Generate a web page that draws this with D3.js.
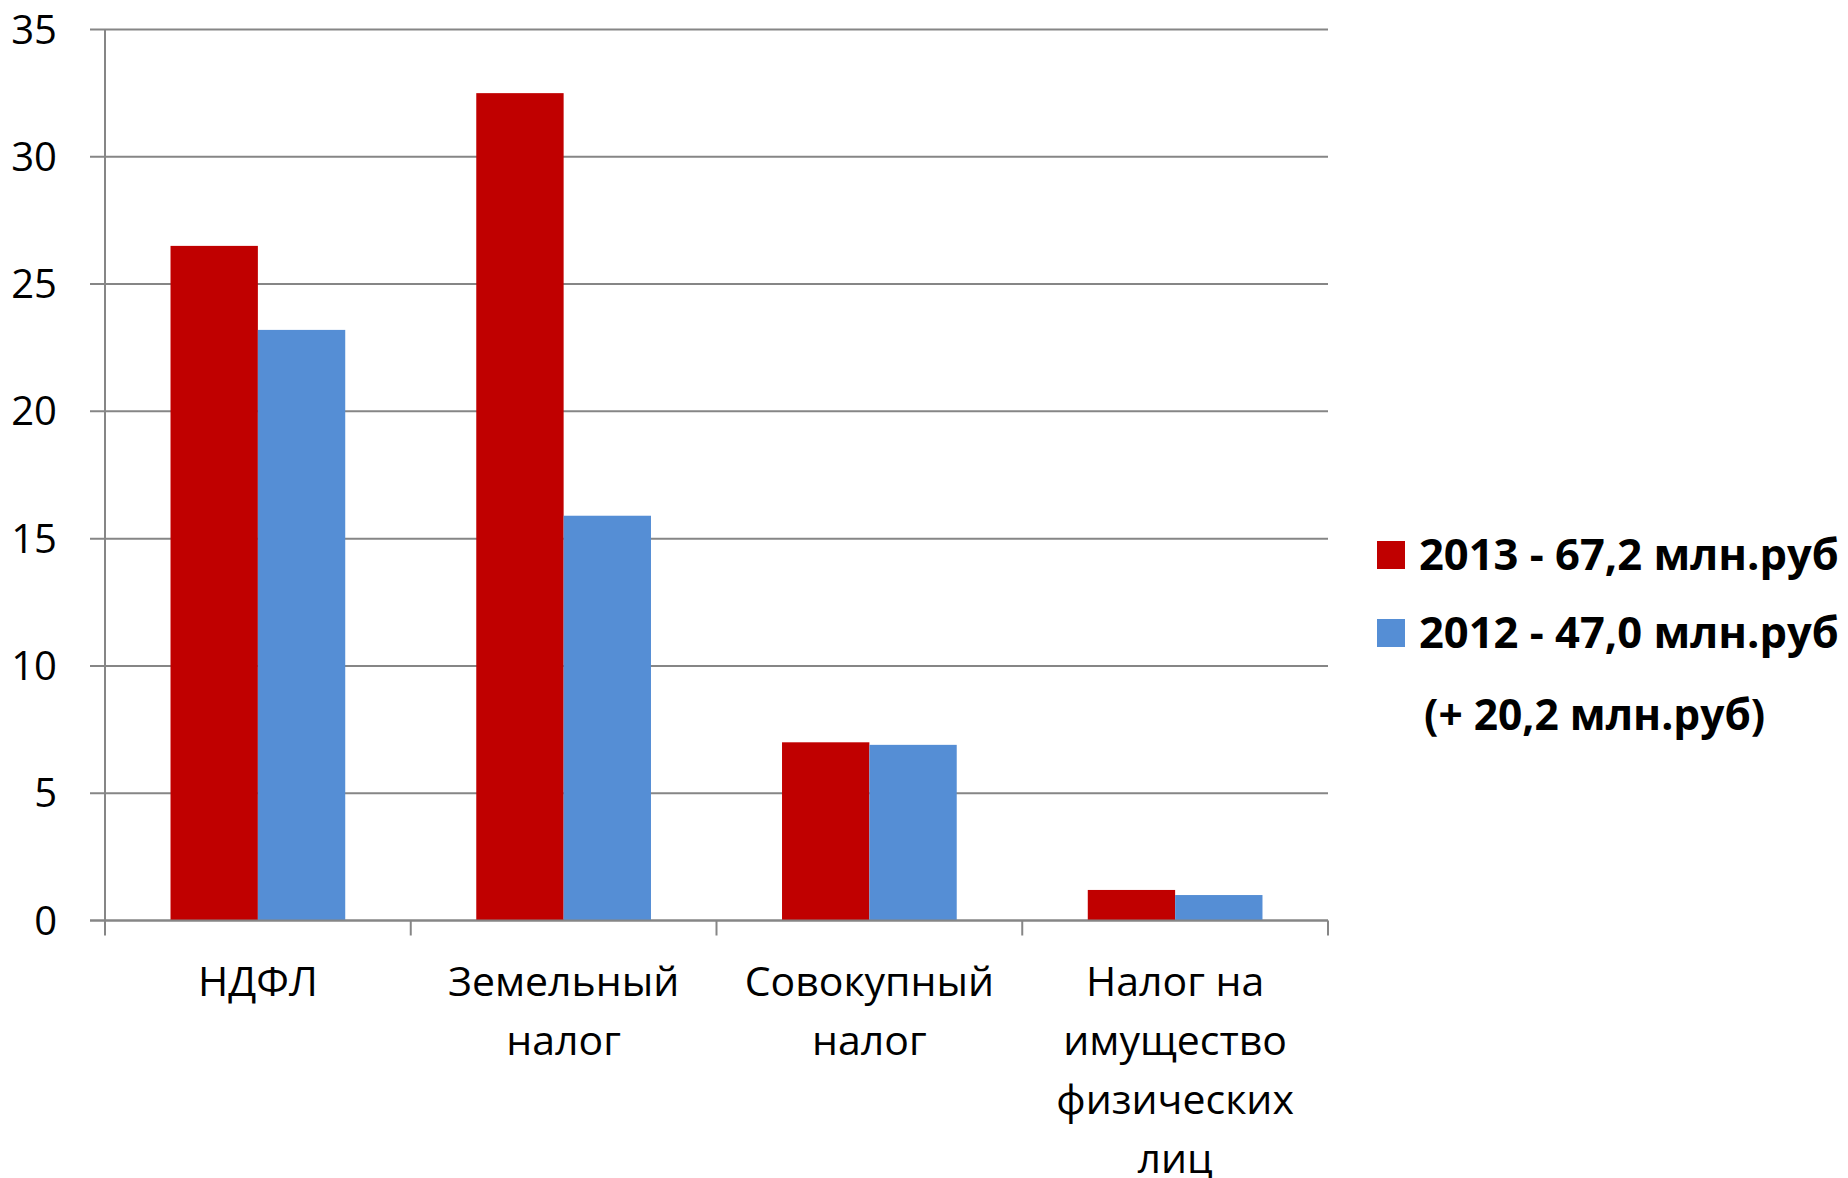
<!DOCTYPE html>
<html><head><meta charset="utf-8">
<script src="https://cdnjs.cloudflare.com/ajax/libs/d3/7.8.5/d3.min.js"></script>
<style>body{margin:0;background:#fff}svg{display:block}</style>
</head><body>
<svg id="c" width="1848" height="1178"></svg>
<script>
const categories = [["НДФЛ"], ["Земельный", "налог"], ["Совокупный", "налог"], ["Налог на", "имущество", "физических", "лиц"]];
const series2013 = [26.5, 32.5, 7.0, 1.2];
const series2012 = [23.2, 15.9, 6.9, 1.0];
const yTicks = [0, 5, 10, 15, 20, 25, 30, 35];
const legendLabels = ["2013 - 67,2 млн.руб", "2012 - 47,0 млн.руб"];
const legendNote = "(+ 20,2 млн.руб)";
const colors = ["#C00000", "#558ED5"];

(function(){
const svg = d3.select("#c");
const font = "'Open Sans', sans-serif";
const pL = 105, pR = 1328, pT = 29.5, pB = 920.5;

const x = d3.scaleBand().domain(d3.range(categories.length)).range([pL, pR]);
const y = d3.scaleLinear().domain([0, 35]).range([pB, pT]);

svg.append("g").selectAll("line").data(yTicks).join("line")
  .attr("x1", pL - 15).attr("x2", pR)
  .attr("y1", d => y(d)).attr("y2", d => y(d))
  .attr("stroke", "#868686").attr("stroke-width", 2);

svg.append("line").attr("x1", pL).attr("x2", pL).attr("y1", pT).attr("y2", pB)
  .attr("stroke", "#868686").attr("stroke-width", 2);

const bounds = d3.range(categories.length + 1).map(i => i < categories.length ? x(i) : x(categories.length - 1) + x.bandwidth());
svg.append("g").selectAll("line").data(bounds).join("line")
  .attr("x1", d => d).attr("x2", d => d).attr("y1", pB).attr("y2", pB + 15)
  .attr("stroke", "#868686").attr("stroke-width", 2);

svg.append("g").selectAll("text").data(yTicks).join("text")
  .attr("x", 57).attr("y", d => y(d)).attr("dy", "0.35em")
  .attr("text-anchor", "end").attr("font-family", font).attr("font-size", 40).attr("fill", "#000")
  .text(d => d);

const w = x.bandwidth() / 3.5;
[series2013, series2012].forEach((s, si) => {
  svg.append("g").selectAll("rect").data(s).join("rect")
    .attr("x", (d, i) => x(i) + 0.75 * w + si * w)
    .attr("width", w)
    .attr("y", d => y(d)).attr("height", d => pB - y(d))
    .attr("fill", colors[si]);
});
svg.append("line").attr("x1", pL - 15).attr("x2", pR).attr("y1", pB).attr("y2", pB)
  .attr("stroke", "#868686").attr("stroke-width", 2);

const cl = svg.append("g").selectAll("text").data(categories).join("text")
  .attr("text-anchor", "middle").attr("font-family", font).attr("font-size", 41).attr("fill", "#000");
cl.each(function(lines, i) {
  d3.select(this).selectAll("tspan").data(lines).join("tspan")
    .attr("x", x(i) + x.bandwidth() / 2)
    .attr("y", (d, j) => 982 + j * 59).attr("dy", "0.35em")
    .text(d => d);
});

const lg = svg.append("g");
legendLabels.forEach((t, i) => {
  const cy = 555 + i * 78;
  lg.append("rect").attr("x", 1377).attr("y", cy - 14).attr("width", 28).attr("height", 28).attr("fill", colors[i]);
  lg.append("text").attr("x", 1419).attr("y", cy).attr("dy", "0.35em")
    .attr("font-family", font).attr("font-weight", "bold").attr("font-size", 43.5).attr("fill", "#000").text(t);
});
lg.append("text").attr("x", 1424).attr("y", 715).attr("dy", "0.35em")
  .attr("font-family", font).attr("font-weight", "bold").attr("font-size", 42.5).attr("fill", "#000").text(legendNote);
})();
</script>
</body></html>
